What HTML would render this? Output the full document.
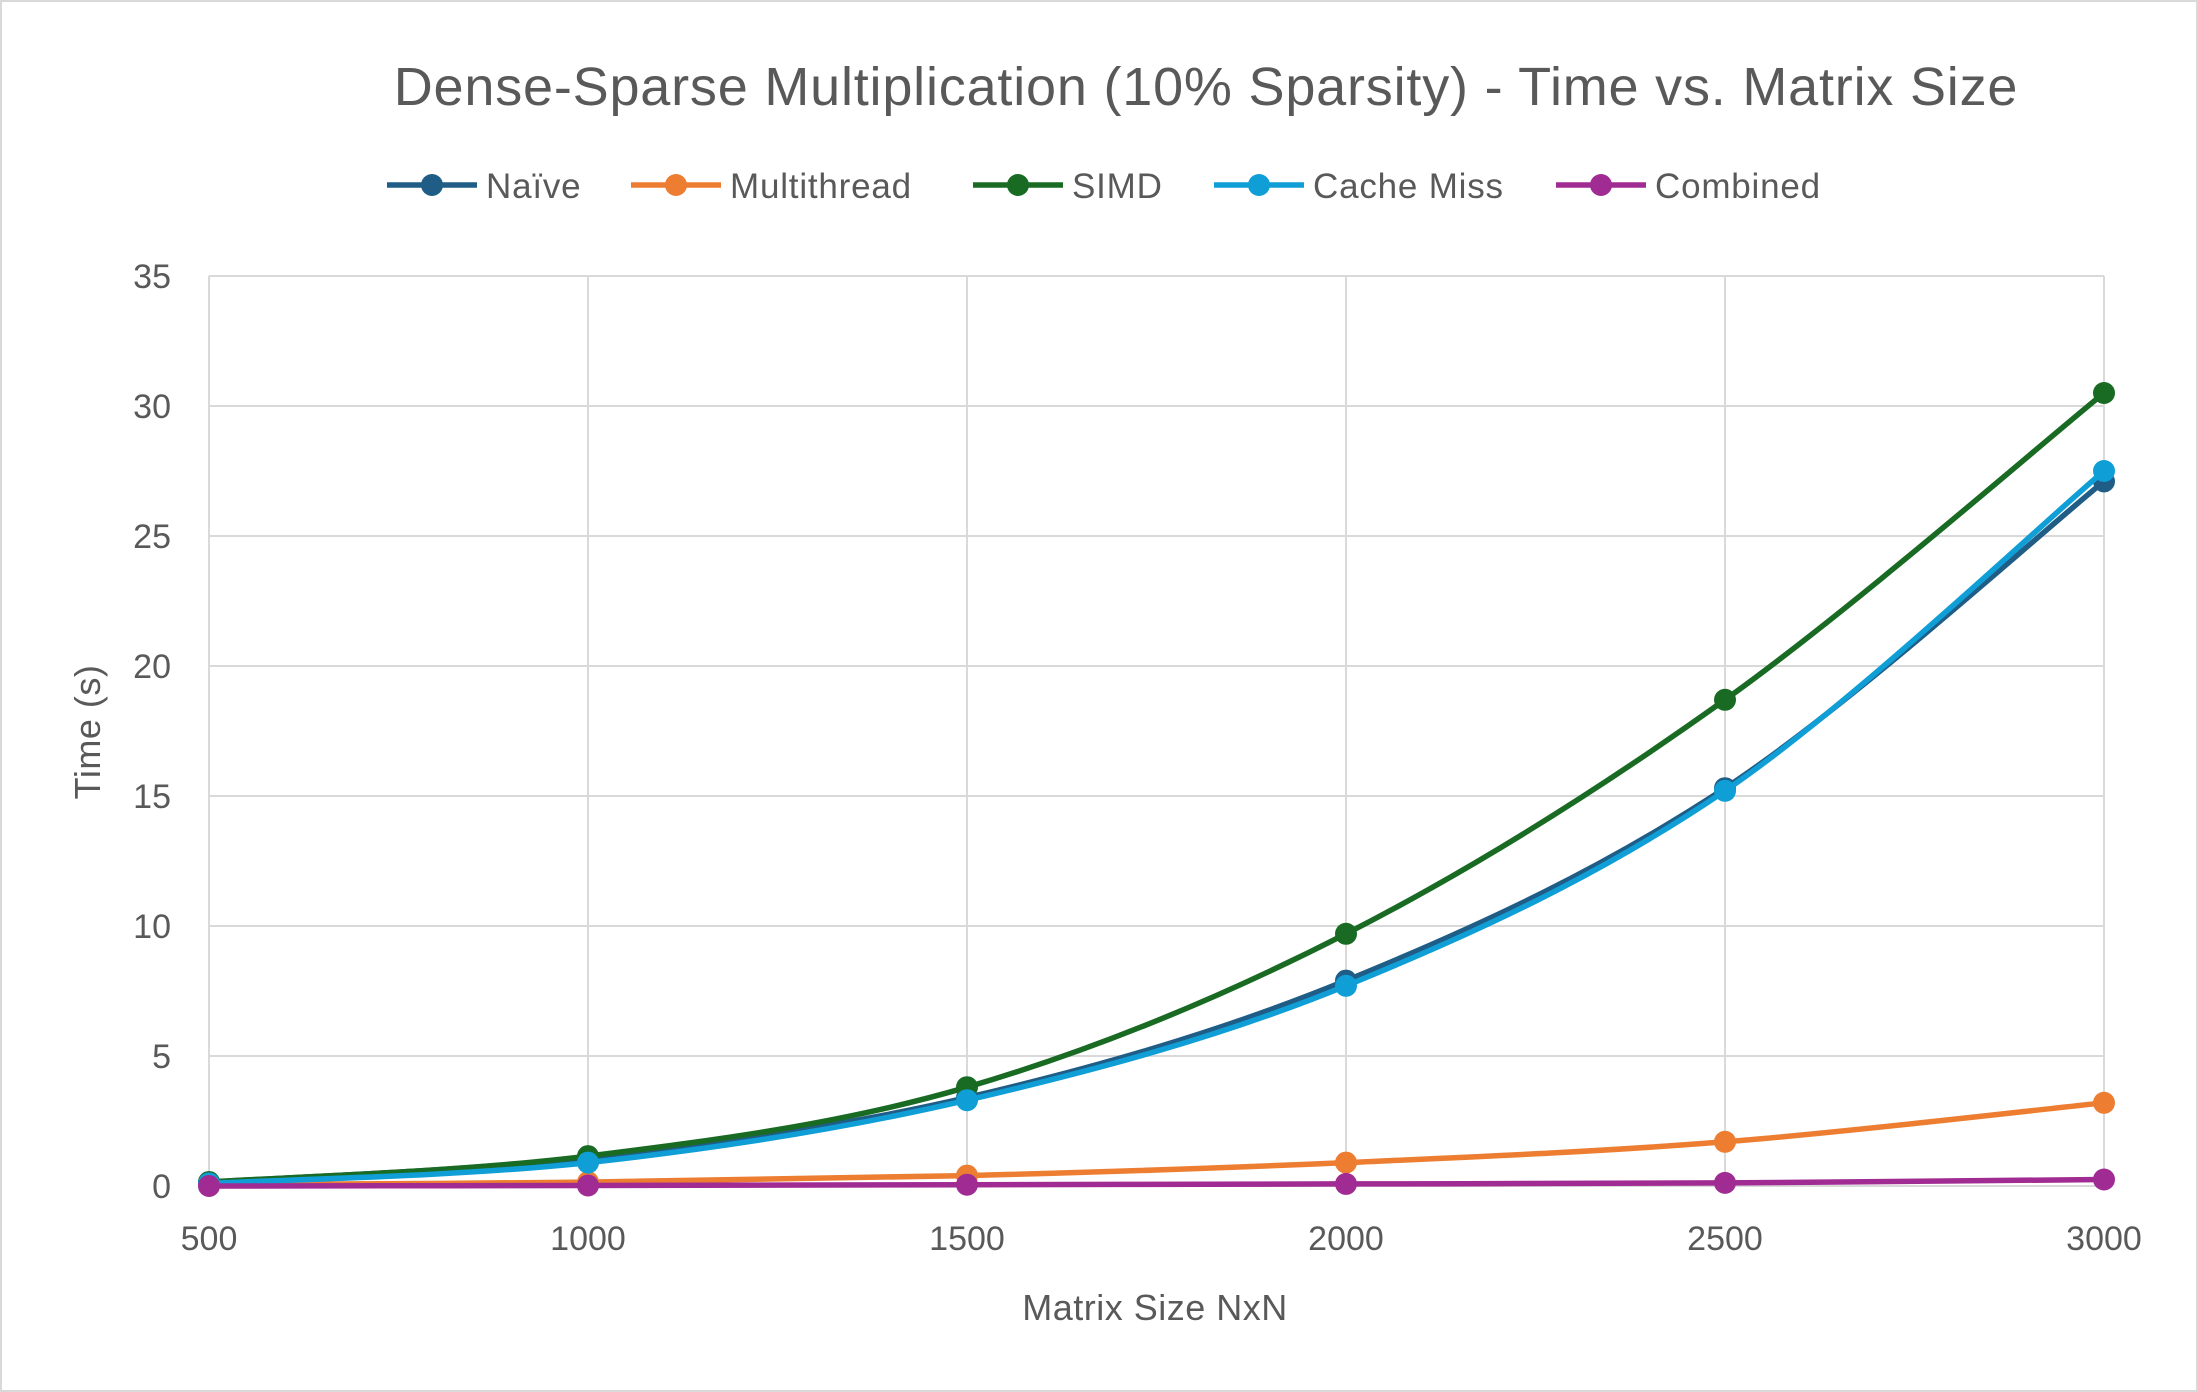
<!DOCTYPE html>
<html><head><meta charset="utf-8"><style>
body{margin:0;background:#fff}
svg{display:block;font-family:"Liberation Sans",sans-serif}
</style></head><body>
<svg id="chart" width="2198" height="1392" viewBox="0 0 2198 1392">
<rect x="1" y="1" width="2196" height="1390" fill="#fff" stroke="#d9d9d9" stroke-width="2"/>
<text x="1206" y="105" font-size="54" letter-spacing="0.8" fill="#595959" text-anchor="middle">Dense-Sparse Multiplication (10% Sparsity) - Time vs. Matrix Size</text>
<g id="grid"></g>
<g id="ticks"></g>
<g id="series"></g>
<g id="legend"></g>
<text x="1155" y="1320" font-size="36" letter-spacing="0.5" fill="#595959" text-anchor="middle">Matrix Size NxN</text>
<text x="0" y="0" font-size="36" letter-spacing="0.5" fill="#595959" text-anchor="middle" transform="translate(100,732) rotate(-90)">Time (s)</text>
</svg>
<script>
const categories=[500,1000,1500,2000,2500,3000];
const yTicks=[0,5,10,15,20,25,30,35];
const seriesNames=["Naïve","Multithread","SIMD","Cache Miss","Combined"];
const naive=[0.15,1.1,3.4,7.9,15.3,27.1];
const multithread=[0.05,0.15,0.4,0.9,1.7,3.2];
const simd=[0.15,1.15,3.8,9.7,18.7,30.5];
const cacheMiss=[0.1,0.9,3.3,7.7,15.2,27.5];
const combined=[0.0,0.02,0.05,0.08,0.12,0.25];
const colors=["#1f5d86","#ed7d31","#196b24","#0f9ed5","#a02b93"];
const NS="http://www.w3.org/2000/svg";
const X0=209,X1=2104,Y0=1186,Y1=276;
const xs=v=>X0+(v-500)/2500*(X1-X0);
const ys=v=>Y0-v/35*(Y0-Y1);
function mk(t,a,p){const e=document.createElementNS(NS,t);for(const k in a)e.setAttribute(k,a[k]);p.appendChild(e);return e;}
const grid=document.getElementById('grid'),ticks=document.getElementById('ticks');
yTicks.forEach(t=>{const l=mk('line',{x1:X0,x2:X1,y1:ys(t),y2:ys(t),stroke:'#d9d9d9','stroke-width':2},grid);

const tx=mk('text',{x:X0-38,y:ys(t)+12,'font-size':34,fill:'#595959','text-anchor':'end'},ticks);tx.textContent=t;
});
categories.forEach(c=>{const l=mk('line',{x1:xs(c),x2:xs(c),y1:Y1,y2:Y0,stroke:'#d9d9d9','stroke-width':2},grid);

const tx=mk('text',{x:xs(c),y:Y0+64,'font-size':34,fill:'#595959','text-anchor':'middle'},ticks);tx.textContent=c;
});
const allSeries=[naive,multithread,simd,cacheMiss,combined];
const sg=document.getElementById('series');
function smooth(pts){let d=`M${pts[0][0]},${pts[0][1]}`;for(let i=0;i<pts.length-1;i++){const p0=pts[i-1]||pts[i],p1=pts[i],p2=pts[i+1],p3=pts[i+2]||p2;const t=1/6;
d+=` C${p1[0]+(p2[0]-p0[0])*t},${p1[1]+(p2[1]-p0[1])*t} ${p2[0]-(p3[0]-p1[0])*t},${p2[1]-(p3[1]-p1[1])*t} ${p2[0]},${p2[1]}`;}return d;}
allSeries.forEach((s,i)=>{const g=mk('g',{},sg);
const pts=s.map((v,j)=>[xs(categories[j]),ys(v)]);
const p=mk('path',{d:smooth(pts),fill:'none',stroke:colors[i],'stroke-width':5.5},g);
pts.forEach(q=>{const c=mk('circle',{cx:q[0],cy:q[1],r:11,fill:colors[i]},g);});});
const lg=document.getElementById('legend');const lx=[387,631,973,1214,1556];
seriesNames.forEach((n,i)=>{const g=mk('g',{},lg);
mk('line',{x1:lx[i],x2:lx[i]+90,y1:185,y2:185,stroke:colors[i],'stroke-width':5.5},g);
mk('circle',{cx:lx[i]+45,cy:185,r:11,fill:colors[i]},g);
const t=mk('text',{x:lx[i]+99,y:198,'font-size':35,'letter-spacing':0.8,fill:'#595959'},g);t.textContent=n;});
</script>
</body></html>
